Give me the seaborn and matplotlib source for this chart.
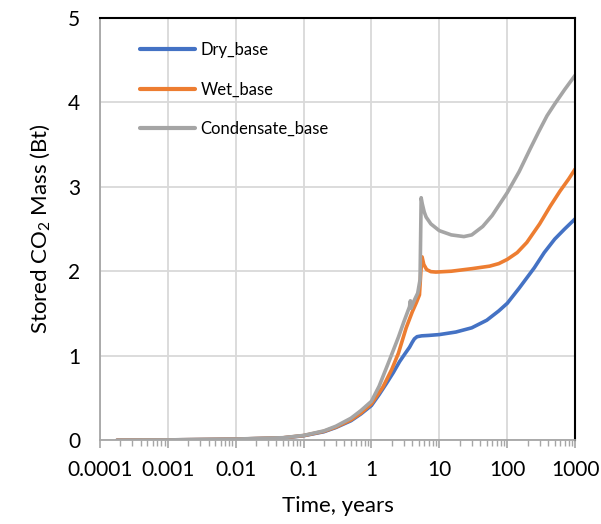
import numpy as np
import pandas as pd
import matplotlib
matplotlib.use("Agg")
import matplotlib.pyplot as plt
import seaborn as sns
from matplotlib.ticker import LogLocator, FixedLocator, NullFormatter

# ---- data ----
series_names = ["Dry_base", "Wet_base", "Condensate_base"]
colors = ["#4472C4", "#ED7D31", "#A5A5A5"]

dry_t = [0.00018, 0.001, 0.01, 0.05, 0.1, 0.2, 0.3, 0.5, 0.7, 1.0, 1.3, 1.66, 2.1, 2.6, 3.1, 3.64,
         4.0, 4.3, 4.7, 5.5, 7.0, 10, 17.5, 30, 50, 75, 100, 150, 250, 350, 500, 700, 1000]
dry_v = [0.0, 0.003, 0.012, 0.027, 0.052, 0.1, 0.15, 0.23, 0.31, 0.41, 0.54, 0.67, 0.8, 0.93, 1.02, 1.1,
         1.16, 1.2, 1.225, 1.235, 1.24, 1.25, 1.28, 1.33, 1.42, 1.53, 1.62, 1.8, 2.04, 2.22, 2.38, 2.5, 2.62]

wet_t = [0.00018, 0.001, 0.01, 0.05, 0.1, 0.2, 0.3, 0.5, 0.7, 1.0, 1.48, 2.0, 2.5, 3.25, 4.0, 4.6,
         5.1, 5.35, 5.57, 5.9, 6.5, 7.5, 8.9, 15, 30, 55, 75, 100, 140, 194, 300, 430, 600, 800, 1000]
wet_v = [0.0, 0.003, 0.012, 0.028, 0.054, 0.105, 0.155, 0.24, 0.32, 0.43, 0.63, 0.84, 1.03, 1.33, 1.52, 1.63,
         1.72, 2.0, 2.17, 2.08, 2.02, 1.995, 1.99, 2.0, 2.03, 2.06, 2.09, 2.14, 2.22, 2.34, 2.56, 2.77, 2.95,
         3.09, 3.21]

cond_t = [0.00018, 0.001, 0.01, 0.05, 0.1, 0.2, 0.3, 0.5, 0.7, 1.0, 1.3, 1.85, 2.5, 3.0, 3.64, 3.75,
          3.82, 4.3, 4.8, 5.2, 5.4, 5.6, 6.0, 6.4, 7.5, 10, 15, 23, 30, 43.6, 60, 100, 150, 218, 290, 385,
          500, 700, 1000]
cond_v = [0.0, 0.003, 0.013, 0.029, 0.056, 0.11, 0.165, 0.26, 0.35, 0.46, 0.64, 0.95, 1.22, 1.4, 1.58, 1.65,
          1.56, 1.66, 1.74, 1.9, 2.87, 2.8, 2.7, 2.64, 2.56, 2.48, 2.43, 2.41, 2.43, 2.53, 2.66, 2.93, 3.18,
          3.45, 3.65, 3.84, 3.98, 4.15, 4.32]

x_ticks = [0.0001, 0.001, 0.01, 0.1, 1, 10, 100, 1000]
x_ticklabels = ["0.0001", "0.001", "0.01", "0.1", "1", "10", "100", "1000"]
y_ticks = [0, 1, 2, 3, 4, 5]

df = pd.concat([
    pd.DataFrame({"t": dry_t, "v": dry_v, "series": series_names[0]}),
    pd.DataFrame({"t": wet_t, "v": wet_v, "series": series_names[1]}),
    pd.DataFrame({"t": cond_t, "v": cond_v, "series": series_names[2]}),
], ignore_index=True)

sns.set_theme(style="white")
plt.rcParams["font.family"] = ["Lato", "DejaVu Sans"]
plt.rcParams["mathtext.fontset"] = "custom"
plt.rcParams["mathtext.rm"] = "Lato"
plt.rcParams["mathtext.it"] = "Lato:italic"
plt.rcParams["text.color"] = "black"
plt.rcParams["axes.labelcolor"] = "black"
plt.rcParams["xtick.labelcolor"] = "black"
plt.rcParams["ytick.labelcolor"] = "black"

fig = plt.figure(figsize=(6.01, 5.24), dpi=100)
ax = fig.add_axes([0.166, 0.160, 0.791, 0.806])

sns.lineplot(data=df, x="t", y="v", hue="series", hue_order=series_names,
             palette=colors, estimator=None, sort=False, linewidth=2.6, ax=ax)
for ln in ax.get_lines():
    ln.set_solid_joinstyle("round")

ax.set_xscale("log")
ax.set_xlim(1e-4, 1e3)
ax.set_ylim(0, 5)
ax.xaxis.set_major_locator(FixedLocator(x_ticks))
ax.set_xticklabels(x_ticklabels)
ax.xaxis.set_minor_locator(LogLocator(base=10, subs=np.arange(2, 10), numticks=100))
ax.xaxis.set_minor_formatter(NullFormatter())
ax.set_yticks(y_ticks)

ax.grid(True, which="major", color="#D9D9D9", linewidth=1.3)
ax.set_axisbelow(True)

for s in ["left", "bottom"]:
    ax.spines[s].set_color("#A6A6A6")
    ax.spines[s].set_linewidth(1.3)
for s in ["top", "right"]:
    ax.spines[s].set_color("black")
    ax.spines[s].set_linewidth(1.5)

ax.tick_params(axis="x", which="major", direction="out", length=6, width=1.2,
               color="#A6A6A6", labelsize=15, pad=8, bottom=True)
ax.tick_params(axis="x", which="minor", direction="out", length=4, width=1.0,
               color="#A6A6A6", bottom=True)
ax.tick_params(axis="y", which="major", length=0, labelsize=15, pad=14)

ax.set_xlabel("Time, years", fontsize=16, labelpad=12)
ax.set_ylabel("Stored CO$_2$ Mass (Bt)", fontsize=16, labelpad=12)

leg = ax.legend(title=None, frameon=False, loc="upper left",
                bbox_to_anchor=(0.084, 0.943), borderaxespad=0, borderpad=0,
                handlelength=3.3, handletextpad=0.35, labelspacing=1.42, fontsize=12)
for line in leg.get_lines():
    line.set_linewidth(3)

fig.savefig("out.png", dpi=100)
